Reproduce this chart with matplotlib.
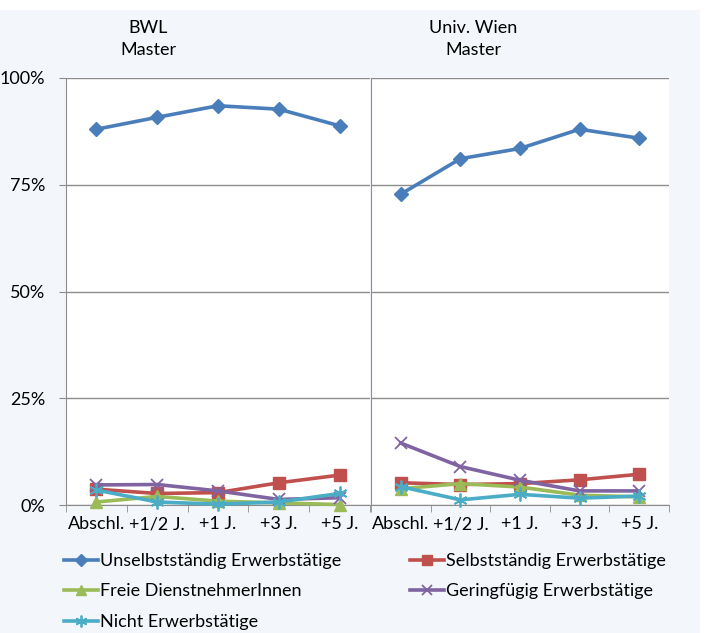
import matplotlib.pyplot as plt
import numpy as np
from matplotlib.patches import Rectangle
from matplotlib.ticker import FuncFormatter

plt.rcParams['font.family'] = ['Lato', 'DejaVu Sans']

categories = ["Abschl.", "+1/2 J.", "+1 J.", "+3 J.", "+5 J."]
series_names = ["Unselbstständig Erwerbstätige", "Selbstständig Erwerbstätige",
                "Freie DienstnehmerInnen", "Geringfügig Erwerbstätige",
                "Nicht Erwerbstätige"]

# BWL Master (percent)
bwl_unselbst = [88.0, 90.8, 93.5, 92.7, 88.8]
bwl_selbst = [3.7, 2.7, 2.9, 5.2, 7.0]
bwl_frei = [0.7, 2.0, 0.9, 0.5, 0.1]
bwl_gering = [4.7, 4.8, 3.3, 1.3, 1.7]
bwl_nicht = [3.5, 0.7, 0.2, 0.7, 2.7]

# Univ. Wien Master (percent)
uni_unselbst = [72.8, 81.1, 83.5, 88.0, 85.9]
uni_selbst = [5.2, 4.8, 5.0, 5.9, 7.2]
uni_frei = [3.8, 5.0, 4.2, 2.3, 1.9]
uni_gering = [14.5, 9.0, 5.8, 3.3, 3.3]
uni_nicht = [4.3, 1.2, 2.5, 1.6, 2.1]

panel_titles = ["BWL\nMaster", "Univ. Wien\nMaster"]
yticks = [0, 25, 50, 75, 100]

colors = ["#4A7EBB", "#C0504D", "#9BBB59", "#8064A2", "#4BACC6"]
markers = ["D", "s", "^", "x", (6, 2, 0)]
msizes = [7, 8, 8, 9, 10]

bg = "#F3F7FC"
grid_col = "#8C8C8C"
fs = 13

fig = plt.figure(figsize=(7.05, 6.33), dpi=100, facecolor=bg)
fig.patches.append(Rectangle((0, 1 - 10 / 633), 1, 10 / 633, transform=fig.transFigure,
                             facecolor="white", edgecolor="none", zorder=0))
fig.patches.append(Rectangle((1 - 5 / 705, 0), 5 / 705, 1, transform=fig.transFigure,
                             facecolor="white", edgecolor="none", zorder=0))

ax1 = fig.add_axes([66 / 705, 128 / 633, 304 / 705, 427 / 633])
ax2 = fig.add_axes([371 / 705, 128 / 633, 298 / 705, 427 / 633])

x = np.arange(len(categories))
panels = [
    (ax1, [bwl_unselbst, bwl_selbst, bwl_frei, bwl_gering, bwl_nicht]),
    (ax2, [uni_unselbst, uni_selbst, uni_frei, uni_gering, uni_nicht]),
]

handles = []
for ax, data in panels:
    ax.set_facecolor("white")
    for i, vals in enumerate(data):
        h, = ax.plot(x, vals, color=colors[i], lw=2.6, marker=markers[i],
                     markersize=msizes[i], markeredgewidth=1.3 if i >= 3 else 1,
                     label=series_names[i], clip_on=False, zorder=3)
        if ax is ax1:
            handles.append(h)
    ax.set_xlim(-0.5, len(categories) - 0.5)
    ax.set_ylim(0, 100)
    ax.set_yticks(yticks)
    ax.yaxis.grid(True, color=grid_col, lw=1)
    ax.set_axisbelow(True)
    ax.set_xticks(x)
    ax.set_xticklabels(categories, fontsize=fs)
    ax.set_xticks(np.arange(-0.5, len(categories), 1), minor=True)
    ax.tick_params(axis="x", which="major", length=0, pad=8)
    ax.tick_params(axis="x", which="minor", length=5, color=grid_col, direction="out")
    for s in ["top", "right"]:
        ax.spines[s].set_visible(False)
    for s in ["left", "bottom"]:
        ax.spines[s].set_color(grid_col)

ax1.yaxis.set_major_formatter(FuncFormatter(lambda v, p: f"{int(v)}%"))
ax1.tick_params(axis="y", length=5, color=grid_col, labelsize=fs, pad=10)
ax2.tick_params(axis="y", length=0, labelleft=False)

fig.text(148 / 705, 1 - 39 / 633, panel_titles[0], ha="center", va="center",
         fontsize=fs, linespacing=1.5)
fig.text(473 / 705, 1 - 39 / 633, panel_titles[1], ha="center", va="center",
         fontsize=fs, linespacing=1.5)

order = [0, 2, 4, 1, 3]
fig.legend([handles[i] for i in order], [series_names[i] for i in order],
           loc="upper left", bbox_to_anchor=(64 / 705, 1 - 553 / 633), ncol=2,
           frameon=False, fontsize=fs, handlelength=1.9, handletextpad=0.1,
           columnspacing=3.8, labelspacing=0.8, borderpad=0, borderaxespad=0,
           markerscale=0.85)

fig.savefig("out.png", dpi=100, facecolor=fig.get_facecolor())
